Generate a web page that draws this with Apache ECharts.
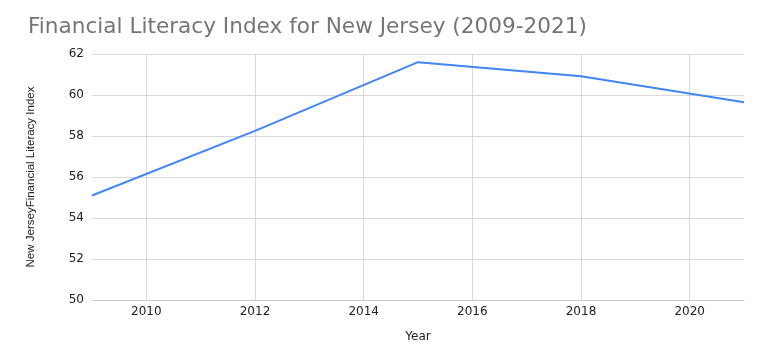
<!DOCTYPE html>
<html>
<head>
<meta charset="utf-8">
<script src="https://cdn.jsdelivr.net/npm/echarts@6/dist/echarts.min.js"></script>
<style>html,body{margin:0;padding:0;background:#fff}#c{width:768px;height:363px}</style>
</head>
<body>
<div id="c"></div>
<script>
const years = [2009, 2012, 2015, 2018, 2021];
const indexValues = [55.1, 58.25, 61.6, 60.92, 59.65];
const xTicks = [2010, 2012, 2014, 2016, 2018, 2020];
const yTicks = [50, 52, 54, 56, 58, 60, 62];

const wide = "'DejaVu Sans', 'Liberation Sans', sans-serif";
const narrow = "'Liberation Sans', Arial, sans-serif";
const chart = echarts.init(document.getElementById('c'));
chart.setOption({
  animation: false,
  backgroundColor: '#ffffff',
  title: {
    text: 'Financial Literacy Index for New Jersey (2009-2021)',
    left: 23, top: 11,
    textStyle: { fontSize: 21.6, fontWeight: 'normal', color: '#757575', fontFamily: wide }
  },
  grid: { left: 92, right: 24, top: 54, bottom: 63, containLabel: false },
  xAxis: {
    type: 'value', min: years[0], max: years[years.length - 1],
    name: 'Year', nameLocation: 'middle', nameGap: 31,
    nameTextStyle: { fontSize: 12, color: '#222', fontFamily: wide },
    axisLine: { show: true, lineStyle: { color: '#cccccc', width: 1 } },
    axisTick: { show: false, customValues: xTicks },
    axisLabel: { customValues: xTicks, margin: 6, fontSize: 12, color: '#222', fontFamily: wide, formatter: v => String(v) },
    splitLine: { show: true, lineStyle: { color: '#d9d9d9', width: 1 } }
  },
  yAxis: {
    type: 'value', min: yTicks[0], max: yTicks[yTicks.length - 1], interval: 2,
    name: 'New JerseyFinancial Literacy Index', nameLocation: 'middle', nameGap: 55,
    nameTextStyle: { fontSize: 11.5, color: '#222', fontFamily: narrow },
    axisLine: { show: false },
    axisTick: { show: false },
    axisLabel: { margin: 8, fontSize: 12, color: '#222', fontFamily: wide },
    splitLine: { show: true, lineStyle: { color: '#d9d9d9', width: 1 } }
  },
  series: [{
    type: 'line',
    data: years.map((y, i) => [y, indexValues[i]]),
    showSymbol: false,
    lineStyle: { color: '#4285F4', width: 2 },
    itemStyle: { color: '#4285F4' }
  }]
});
</script>
</body>
</html>
